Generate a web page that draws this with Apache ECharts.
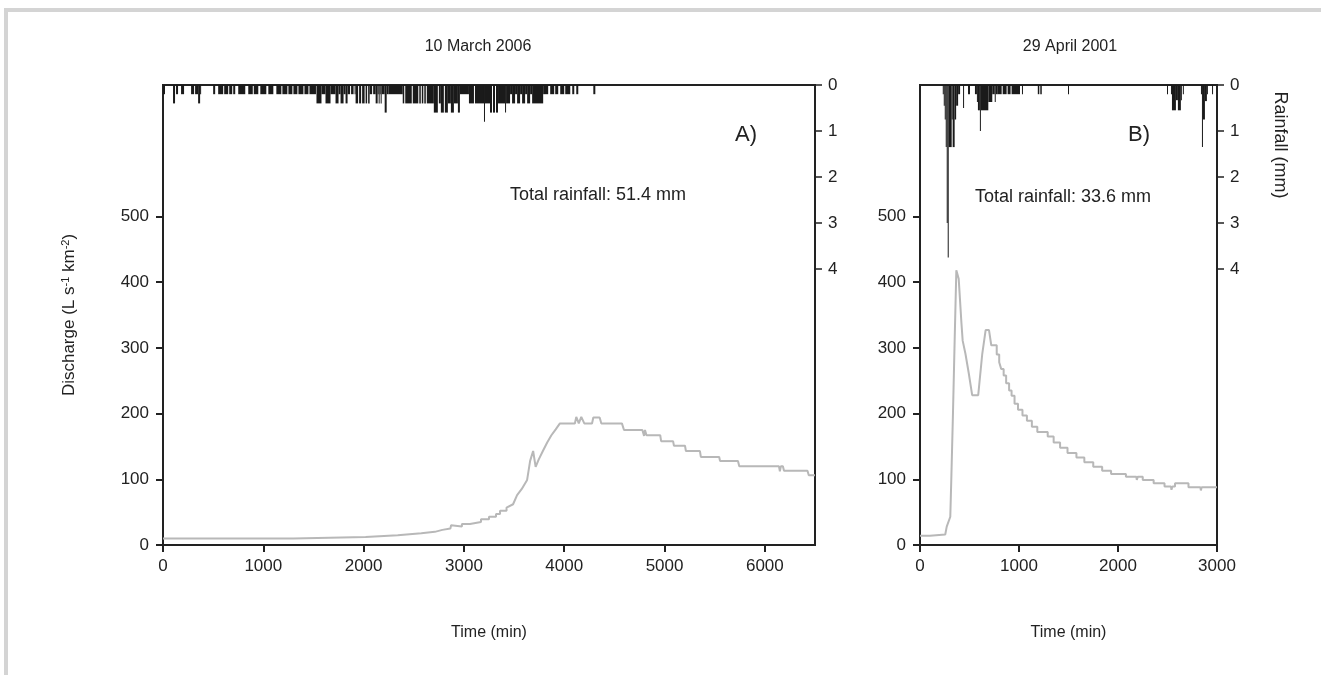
<!DOCTYPE html>
<html>
<head>
<meta charset="utf-8">
<script src="https://cdn.jsdelivr.net/npm/echarts@6/dist/echarts.min.js"></script>
<style>
html,body{margin:0;padding:0;background:#fff;}
#chart{width:1321px;height:675px;}
</style>
</head>
<body>
<div id="chart"></div>
<script>
// rainfall intervals: [start min, end min, mm]
var rainA = [
  [0,20,0.2],[100,120,0.4],[130,150,0.2],[180,210,0.2],[280,310,0.2],
  [320,350,0.2],[350,370,0.4],[370,380,0.2],[500,520,0.2],
  [550,600,0.2],[610,650,0.2],[660,690,0.2],[700,720,0.2],[750,820,0.2],
  [850,895,0.2],[905,950,0.2],[970,1030,0.2],[1050,1100,0.2],
  [1130,1180,0.2],[1190,1240,0.2],[1250,1290,0.2],[1300,1340,0.2],[1350,1400,0.2],[1410,1450,0.2],[1460,1525,0.2],
  [1530,1580,0.4],[1580,1620,0.2],[1620,1670,0.4],[1670,1720,0.2],[1720,1750,0.4],[1750,1770,0.2],[1770,1800,0.4],
  [1800,1820,0.2],[1820,1840,0.4],[1840,1865,0.2],[1875,1900,0.2],[1910,1920,0.2],
  [1920,1945,0.4],[1955,1975,0.4],[1985,2010,0.4],[2020,2035,0.4],[2045,2060,0.4],[2060,2085,0.2],[2095,2120,0.2],
  [2120,2140,0.4],[2140,2150,0.2],[2150,2160,0.4],[2160,2170,0.2],[2170,2180,0.4],[2180,2210,0.2],[2210,2230,0.6],[2230,2250,0.2],
  [2250,2390,0.2],
  [2390,2405,0.4],[2415,2480,0.4],[2490,2545,0.4],[2555,2570,0.4],[2580,2595,0.4],[2605,2620,0.4],[2630,2700,0.4],
  [2700,2740,0.6],[2750,2770,0.4],[2770,2800,0.6],[2810,2840,0.6],[2840,2870,0.4],[2870,2900,0.6],[2900,2940,0.4],[2940,2960,0.6],
  [2960,3050,0.2],
  [3050,3100,0.4],[3110,3200,0.4],[3200,3210,0.8],[3210,3260,0.4],
  [3260,3280,0.6],[3290,3310,0.6],[3320,3340,0.6],
  [3340,3410,0.4],[3410,3420,0.6],[3420,3460,0.4],[3460,3480,0.2],[3480,3510,0.4],[3510,3530,0.2],[3530,3560,0.4],
  [3560,3580,0.2],[3580,3610,0.4],[3610,3630,0.2],[3630,3660,0.4],[3660,3680,0.2],[3680,3790,0.4],
  [3790,3840,0.2],[3860,3900,0.2],[3910,3940,0.2],[3960,4000,0.2],[4010,4060,0.2],[4080,4100,0.2],[4120,4140,0.2],[4290,4310,0.2]
];
var rainB = [
  [230,240,0.2],[240,250,0.45],[250,260,0.75],[260,270,1.35],[270,280,3.0],[280,290,3.75],[290,320,1.35],[320,330,0.75],
  [330,350,1.35],[350,365,0.75],[365,385,0.45],[385,405,0.2],
  [435,445,0.5],[485,505,0.2],
  [555,575,0.2],[575,585,0.37],[585,605,0.55],[605,615,1.0],[615,690,0.55],[690,730,0.37],[730,755,0.2],[755,765,0.37],[765,780,0.2],
  [780,825,0.2],[835,875,0.2],[885,915,0.2],[925,1010,0.2],[1030,1040,0.2],
  [1190,1205,0.2],[1215,1230,0.2],[1495,1505,0.2],
  [2495,2505,0.2],[2535,2545,0.2],[2545,2585,0.55],[2585,2605,0.33],[2605,2635,0.55],[2635,2645,0.33],[2655,2665,0.2],
  [2838,2848,0.2],[2848,2858,1.35],[2858,2878,0.75],[2878,2898,0.35],[2898,2908,0.2],[2950,2960,0.2]
];
// discharge [min, L s-1 km-2]
var dischargeA = [
  [0,10],[140,10],[150,7.6],[160,10],[1300,10],[1300,12],[2020,12],[2020,15],[2340,15],[2340,18],
  [2575,18],[2575,20],[2710,20],[2710,23],[2785,23],[2785,25],[2865,25],[2872,30],[2880,28],[2980,28],[2980,32],
  [3060,32],[3060,35],[3170,35],[3170,39],[3250,39],[3250,43],[3320,43],[3320,47],[3360,47],[3360,52],[3425,52],
  [3425,57],[3490,62],[3530,76],[3575,85],[3630,99],[3660,128],[3690,143],[3715,119],[3745,130],[3787,143],
  [3830,156],[3872,167],[3915,176],[3957,185],[4106,185],[4120,195],[4145,185],[4170,195],[4200,185],[4277,185],
  [4290,194],[4353,194],[4370,185],[4575,185],[4596,175],[4779,175],[4796,166],[4805,175],[4820,167],[4957,167],
  [4966,158],[5085,158],[5094,151],[5204,151],[5213,143],[5353,143],[5362,134],[5545,134],[5553,128],[5732,128],
  [5745,120],[6140,120],[6150,112],[6160,120],[6180,120],[6191,113],[6425,113],[6438,106],[6500,106]
];
var dischargeB = [
  [0,14],[100,14],[100,16],[255,16],[270,28],[306,43],[316,99],[333,200],[350,311],[367,418],[374,420],
  [391,405],[418,339],[431,311],[459,291],[493,261],[527,228],[588,228],[629,291],[663,327],[697,327],[720,304],
  [775,304],[775,290],[800,290],[800,278],[820,278],[820,268],[845,268],[845,258],[870,258],[870,246],[900,246],
  [900,235],[925,235],[925,227],[955,227],[955,215],[990,215],[990,206],[1035,206],[1035,197],[1080,197],[1080,189],
  [1130,189],[1130,180],[1185,180],[1185,172],[1290,172],[1290,165],[1350,165],[1350,156],[1415,156],[1415,148],
  [1490,148],[1490,140],[1580,140],[1580,133],[1660,133],[1660,126],[1750,126],[1750,119],[1840,119],[1840,113],
  [1930,113],[1930,108],[2080,108],[2080,104],[2185,104],[2190,99],[2200,104],[2250,104],[2250,99],[2360,99],
  [2360,94],[2470,94],[2470,89],[2535,89],[2540,84],[2550,89],[2576,89],[2576,94],[2712,94],[2712,88],
  [2832,88],[2837,83],[2845,88],[3000,88]
];
var xTicksA = [0,1000,2000,3000,4000,5000,6000];
var xTicksB = [0,1000,2000,3000];
var qTicks = [0,100,200,300,400,500];
var rainTicks = [0,1,2,3,4];

var FONT = 'Liberation Sans, Arial, sans-serif';
var INK = '#222';

function plain(v) { return String(v); }

function xAxisCfg(grid, max, ticks) {
  return {
    gridIndex: grid, type: 'value', min: 0, max: max,
    name: 'Time (min)', nameLocation: 'middle', nameGap: 80,
    nameTextStyle: {fontFamily: FONT, fontSize: 16, color: INK},
    axisLine: {lineStyle: {color: INK, width: 2}},
    axisTick: {length: 7, lineStyle: {color: INK, width: 2}, customValues: ticks},
    axisLabel: {fontFamily: FONT, fontSize: 17, color: INK, margin: 13, customValues: ticks, formatter: plain},
    splitLine: {show: false}
  };
}
function qAxisCfg(grid, withName) {
  var ax = {
    gridIndex: grid, type: 'value', min: 0, max: 700, position: 'left',
    axisLine: {lineStyle: {color: INK, width: 2}},
    axisTick: {length: 7, lineStyle: {color: INK, width: 2}, customValues: qTicks},
    axisLabel: {fontFamily: FONT, fontSize: 17, color: INK, margin: 14, customValues: qTicks, formatter: plain},
    splitLine: {show: false}
  };
  if (withName) {
    ax.name = 'Discharge (L s{sup|-1} km{sup|-2})';
    ax.nameLocation = 'middle';
    ax.nameGap = 84;
    ax.nameTextStyle = {fontFamily: FONT, fontSize: 17, color: INK,
      rich: {sup: {fontFamily: FONT, fontSize: 11, color: INK, verticalAlign: 'top', padding: [0, 0, 8, 0]}}};
  }
  return ax;
}
function rainAxisCfg(grid) {
  return {
    gridIndex: grid, type: 'value', min: 0, max: 10, inverse: true, position: 'right',
    axisLine: {lineStyle: {color: INK, width: 2}},
    axisTick: {length: 7, lineStyle: {color: INK, width: 1.5}, customValues: rainTicks},
    axisLabel: {fontFamily: FONT, fontSize: 17, color: INK, margin: 13, customValues: rainTicks, formatter: plain},
    splitLine: {show: false}
  };
}
function renderRain(params, api) {
  var p0 = api.coord([api.value(0), 0]);
  var p1 = api.coord([api.value(1), api.value(2)]);
  return {
    type: 'rect',
    shape: {x: p0[0], y: p0[1], width: Math.max(p1[0] - p0[0], 1), height: p1[1] - p0[1]},
    style: {fill: '#1a1a1a'}
  };
}
function textEl(x, y, str, size, align, rot) {
  return {
    type: 'text', x: x, y: y, rotation: rot || 0,
    style: {text: str, fontFamily: FONT, fontSize: size, fill: INK, align: align || 'left', verticalAlign: 'middle'}
  };
}

var myChart = echarts.init(document.getElementById('chart'));
var option = {
  animation: false,
  backgroundColor: '#fff',
  grid: [
    {left: 163, top: 85, width: 652, height: 460, show: true, borderColor: INK, borderWidth: 2, backgroundColor: 'transparent'},
    {left: 920, top: 85, width: 297, height: 460, show: true, borderColor: INK, borderWidth: 2, backgroundColor: 'transparent'}
  ],
  xAxis: [xAxisCfg(0, 6500, xTicksA), xAxisCfg(1, 3000, xTicksB)],
  yAxis: [qAxisCfg(0, true), rainAxisCfg(0), qAxisCfg(1, false), rainAxisCfg(1)],
  series: [
    {type: 'line', xAxisIndex: 0, yAxisIndex: 0, data: dischargeA, symbol: 'none',
      lineStyle: {color: '#b8b8b8', width: 2}},
    {type: 'custom', xAxisIndex: 0, yAxisIndex: 1, data: rainA, renderItem: renderRain,
      encode: {x: [0, 1], y: 2}},
    {type: 'line', xAxisIndex: 1, yAxisIndex: 2, data: dischargeB, symbol: 'none',
      lineStyle: {color: '#b8b8b8', width: 2}},
    {type: 'custom', xAxisIndex: 1, yAxisIndex: 3, data: rainB, renderItem: renderRain,
      encode: {x: [0, 1], y: 2}}
  ],
  graphic: [
    {type: 'rect', shape: {x: 4, y: 8, width: 1317, height: 4}, style: {fill: '#d4d4d4'}},
    {type: 'rect', shape: {x: 4, y: 8, width: 4, height: 667}, style: {fill: '#d4d4d4'}},
    textEl(478, 47, '10 March 2006', 16, 'center'),
    textEl(1070, 47, '29 April 2001', 16, 'center'),
    textEl(735, 135, 'A)', 22, 'left'),
    textEl(1128, 135, 'B)', 22, 'left'),
    textEl(510, 195, 'Total rainfall: 51.4 mm', 18, 'left'),
    textEl(975, 197, 'Total rainfall: 33.6 mm', 18, 'left'),
    textEl(1280, 145, 'Rainfall (mm)', 18, 'center', -Math.PI / 2)
  ]
};
myChart.setOption(option);
window.addEventListener('resize', function () { myChart.resize(); });
</script>
</body>
</html>
